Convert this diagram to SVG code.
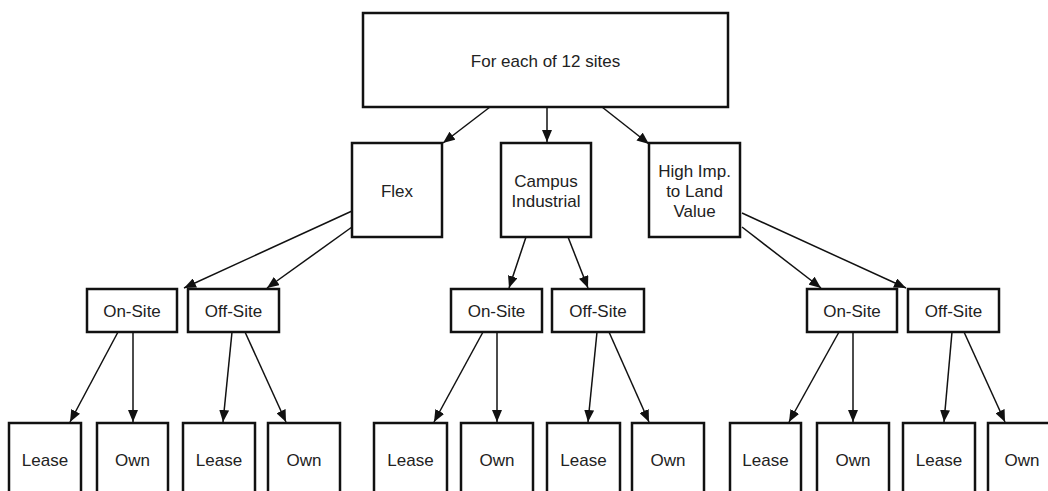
<svg xmlns="http://www.w3.org/2000/svg" width="1048" height="491" viewBox="0 0 1048 491">
<defs>
<marker id="arr" viewBox="0 0 12 10" refX="12" refY="5" markerWidth="12" markerHeight="10" orient="auto" markerUnits="userSpaceOnUse">
<path d="M0,0 L12,5 L0,10 z" fill="#111"/>
</marker>
<style>
rect{fill:#fff;stroke:#111;stroke-width:2.5}
text{font-family:"Liberation Sans",Arial,sans-serif;font-size:17px;fill:#222;text-anchor:middle}
.c line{stroke:#111;stroke-width:1.5;marker-end:url(#arr)}
</style>
</defs>
<rect x="0" y="0" width="1048" height="491" style="stroke:none;fill:#fff"/>
<g class="c" id="connectors">
<line x1="490" y1="107" x2="443" y2="143"/>
<line x1="547" y1="107" x2="547" y2="142"/>
<line x1="602" y1="107" x2="649" y2="144"/>
<line x1="352" y1="211" x2="184" y2="288"/>
<line x1="352" y1="227" x2="267" y2="288"/>
<line x1="526" y1="237" x2="509" y2="288"/>
<line x1="568" y1="237" x2="588" y2="288"/>
<line x1="742" y1="213" x2="906" y2="288"/>
<line x1="742" y1="227" x2="821" y2="288"/>
<line x1="118" y1="332" x2="70" y2="422"/>
<line x1="133" y1="332" x2="133" y2="422"/>
<line x1="232" y1="332" x2="223" y2="422"/>
<line x1="245" y1="332" x2="286" y2="422"/>
<line x1="483" y1="332" x2="434" y2="422"/>
<line x1="497" y1="332" x2="497" y2="422"/>
<line x1="597" y1="332" x2="588" y2="422"/>
<line x1="609" y1="332" x2="649" y2="422"/>
<line x1="839" y1="332" x2="789" y2="422"/>
<line x1="853" y1="332" x2="853" y2="422"/>
<line x1="952" y1="332" x2="944" y2="422"/>
<line x1="964" y1="332" x2="1005" y2="422"/>
</g>
<g id="root"><rect x="363" y="13" width="365" height="94"/><text x="545.5" y="67">For each of 12 sites</text></g>
<g id="flex"><rect x="352" y="143" width="90" height="94"/><text x="397" y="197">Flex</text></g>
<g id="campus"><rect x="501" y="143" width="90" height="94"/><text x="546" y="187">Campus</text><text x="546" y="207">Industrial</text></g>
<g id="high"><rect x="649" y="143" width="91" height="94"/><text x="694.5" y="177">High Imp.</text><text x="694.5" y="197">to Land</text><text x="694.5" y="217">Value</text></g>
<g id="on1"><rect x="87" y="289" width="90" height="43"/><text x="132" y="317">On-Site</text></g>
<g id="off1"><rect x="188" y="289" width="91" height="43"/><text x="233.5" y="317">Off-Site</text></g>
<g id="on2"><rect x="451" y="289" width="91" height="43"/><text x="496.5" y="317">On-Site</text></g>
<g id="off2"><rect x="552" y="289" width="92" height="43"/><text x="598" y="317">Off-Site</text></g>
<g id="on3"><rect x="807" y="289" width="90" height="43"/><text x="852" y="317">On-Site</text></g>
<g id="off3"><rect x="908" y="289" width="91" height="43"/><text x="953.5" y="317">Off-Site</text></g>
<g id="lease1"><rect x="9" y="423" width="72" height="90"/><text x="45" y="466">Lease</text></g>
<g id="own1"><rect x="97" y="423" width="71" height="90"/><text x="132.5" y="466">Own</text></g>
<g id="lease2"><rect x="183" y="423" width="72" height="90"/><text x="219" y="466">Lease</text></g>
<g id="own2"><rect x="268" y="423" width="72" height="90"/><text x="304" y="466">Own</text></g>
<g id="lease3"><rect x="374" y="423" width="73" height="90"/><text x="410.5" y="466">Lease</text></g>
<g id="own3"><rect x="461" y="423" width="72" height="90"/><text x="497" y="466">Own</text></g>
<g id="lease4"><rect x="547" y="423" width="73" height="90"/><text x="583.5" y="466">Lease</text></g>
<g id="own4"><rect x="632" y="423" width="72" height="90"/><text x="668" y="466">Own</text></g>
<g id="lease5"><rect x="730" y="423" width="71" height="90"/><text x="765.5" y="466">Lease</text></g>
<g id="own5"><rect x="817" y="423" width="72" height="90"/><text x="853" y="466">Own</text></g>
<g id="lease6"><rect x="903" y="423" width="72" height="90"/><text x="939" y="466">Lease</text></g>
<g id="own6"><rect x="988" y="423" width="72" height="90"/><text x="1022" y="466">Own</text></g>
</svg>
